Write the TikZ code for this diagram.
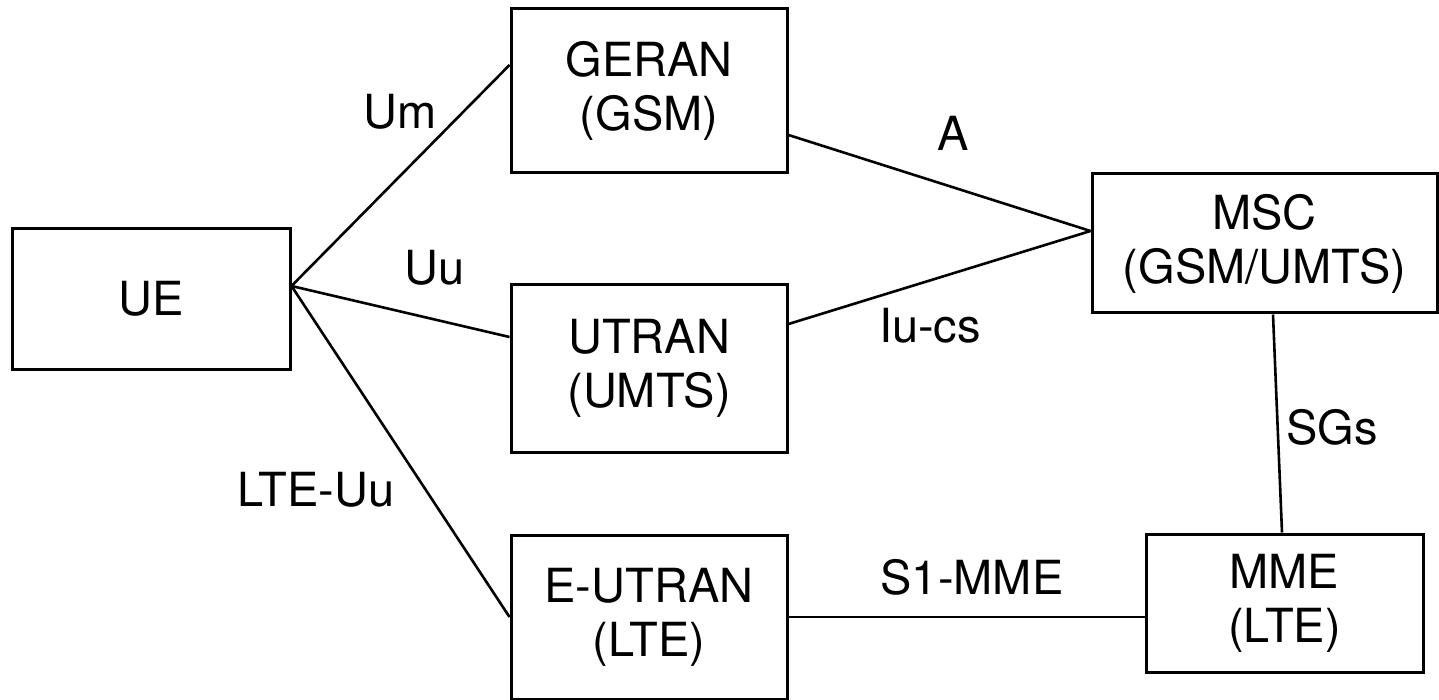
\documentclass[tikz,border=0pt]{standalone}
\usepackage{fontspec}
\setmainfont{TeX Gyre Heros}
\begin{document}
\begin{tikzpicture}[x=1pt,y=-1pt,
  box/.style={draw,line width=3pt,inner sep=0pt,align=center,font=\fontsize{47}{54}\selectfont},
  lbl/.style={inner sep=0pt,font=\fontsize{47}{54}\selectfont},
  link/.style={line width=2.6pt}]
\useasboundingbox (0,0) rectangle (1439,700);
\node[box,minimum width=278pt,minimum height=140pt] (UE) at (151,299) {UE};
\node[box,minimum width=276pt,minimum height=164pt] (GERAN) at (649,91) {GERAN\\(GSM)};
\node[box,minimum width=276pt,minimum height=167pt] (UTRAN) at (649,368.5) {UTRAN\\(UMTS)};
\node[box,minimum width=276pt,minimum height=164pt] (EUTRAN) at (649,617) {E-UTRAN\\(LTE)};
\node[box,minimum width=345pt,minimum height=139pt] (MSC) at (1264.5,243.5) {MSC\\(GSM/UMTS)};
\node[box,minimum width=277pt,minimum height=138pt] (MME) at (1284.5,603) {MME\\(LTE)};
\draw[link] ([yshift=13pt]UE.east) -- ([yshift=26pt]GERAN.west);
\draw[link] ([yshift=13pt]UE.east) -- ([yshift=31.5pt]UTRAN.west);
\draw[link] ([yshift=13pt]UE.east) -- (EUTRAN.west);
\draw[link] ([yshift=-44pt]GERAN.east) -- ([yshift=12.5pt]MSC.west);
\draw[link] ([yshift=44.5pt]UTRAN.east) -- ([yshift=12.5pt]MSC.west);
\draw[link] ([xshift=8.5pt]MSC.south) -- ([xshift=-2.5pt]MME.north);
\draw[link] (EUTRAN.east) -- ([yshift=-14pt]MME.west);
\node[lbl] (lUm) at (400,112) {Um};
\node[lbl] (lUu) at (435,268) {Uu};
\node[lbl] (lLTE) at (316,490) {LTE-Uu};
\node[lbl] (lA) at (953,133) {A};
\node[lbl] (lIu) at (930,326) {Iu-cs};
\node[lbl] (lS1) at (972,577) {S1-MME};
\node[lbl] (lSG) at (1332,427) {SGs};
\end{tikzpicture}
\end{document}
